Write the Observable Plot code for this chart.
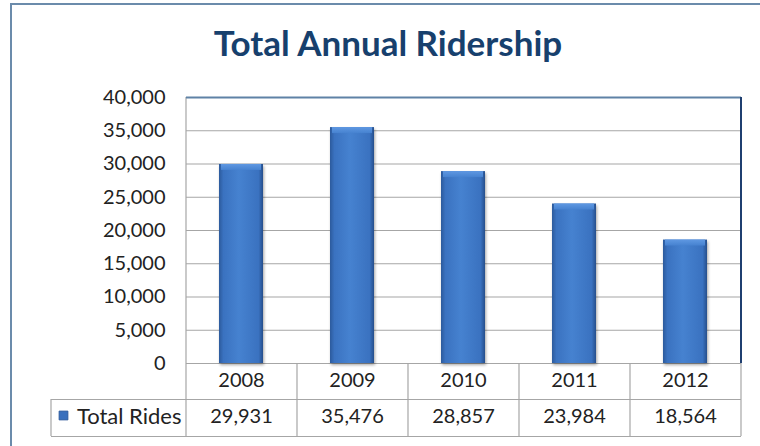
<!DOCTYPE html>
<html><head><meta charset="utf-8">
<script src="https://cdn.jsdelivr.net/npm/d3@7"></script>
<script src="https://cdn.jsdelivr.net/npm/@observablehq/plot@0.6"></script>
<style>
body{margin:0;background:#fff;}
#wrap{position:relative;width:760px;height:446px;overflow:hidden;font-family:Lato,"Open Sans",sans-serif;}
#frame{position:absolute;left:10px;top:3px;width:770px;height:470px;border-left:2px solid #6b8bab;border-top:2px solid #6b8bab;}
#title{position:absolute;left:10px;width:756px;top:24px;text-align:center;font-weight:bold;font-size:35px;color:#17406d;line-height:36px;}
#chart{position:absolute;left:0;top:0;}
</style></head>
<body>
<div id="wrap"><div id="frame"></div><div id="title">Total Annual Ridership</div><div id="chart"></div></div>
<script>
const years = ["2008", "2009", "2010", "2011", "2012"];
const rides = [29931, 35476, 28857, 23984, 18564];
const yTicks = [0, 5000, 10000, 15000, 20000, 25000, 30000, 35000, 40000];
const seriesName = "Total Rides";

const data = years.map((y, i) => ({year: y, rides: rides[i]}));
const fmt = d3.format(",");
const half = 55.5;
const gray = "#a6a6a6";

const chart = Plot.plot({
  width: 760,
  height: 446,
  marginTop: 97,
  marginBottom: 83,
  marginLeft: 186,
  marginRight: 19,
  style: {fontFamily: "Lato, 'Open Sans', sans-serif", fontSize: "20px", color: "#222", background: "transparent", overflow: "visible"},
  x: {domain: years, paddingInner: 0.6, paddingOuter: 0.3, axis: null},
  y: {domain: [0, 40000], ticks: yTicks, tickFormat: fmt, tickSize: 0, tickPadding: 21, label: null},
  marks: [
    Plot.ruleY(yTicks.slice(1, -1), {stroke: gray, strokeWidth: 1.2, strokeOpacity: 1}),
    Plot.ruleY([0], {stroke: gray, strokeWidth: 1.2}),
    Plot.ruleY([0], {stroke: gray, strokeWidth: 1.2, dy: 36, insetLeft: -135}),
    Plot.ruleY([0], {stroke: gray, strokeWidth: 1.2, dy: 73, insetLeft: -135}),
    Plot.ruleX(years, {x: d => d, dx: -half, y1: 0, y2: 0, insetBottom: -73, stroke: gray, strokeWidth: 1.2}),
    Plot.ruleX([years[0]], {x: d => d, dx: -half, y1: 0, y2: 40000, stroke: gray, strokeWidth: 1.2}),
    Plot.ruleX([years[4]], {x: d => d, dx: half, y1: 0, y2: 0, insetBottom: -73, stroke: gray, strokeWidth: 1.2}),
    Plot.ruleX([years[0]], {x: d => d, dx: -half - 135, y1: 0, y2: 0, insetTop: 36, insetBottom: -73, stroke: gray, strokeWidth: 1.2}),
    Plot.ruleY([40000], {stroke: "#5f82a6", strokeWidth: 2}),
    Plot.ruleX([years[4]], {x: d => d, dx: half, y1: 0, y2: 40000, stroke: "#1f3f70", strokeWidth: 2}),
    Plot.barY(data, {x: "year", y: "rides", fill: "#3f78c8", className: "mainbar"}),
    Plot.barY(data, {x: "year", y1: "rides", y2: "rides", insetBottom: -6, insetLeft: 2, insetRight: 2, fill: "#5b95e0", className: "bevel"}),
    Plot.text(years, {x: d => d, frameAnchor: "bottom", lineAnchor: "middle", dy: 17.5, fill: "#222"}),
    Plot.text(data, {x: "year", text: d => fmt(d.rides), frameAnchor: "bottom", lineAnchor: "middle", dy: 53.5, fill: "#222"}),
    Plot.text([seriesName], {frameAnchor: "bottom-left", lineAnchor: "middle", textAnchor: "end", dx: -5, dy: 53.5, fill: "#222", fontSize: 22}),
    Plot.dot([seriesName], {frameAnchor: "bottom-left", dx: -123, dy: 52, symbol: "square", r: 5, fill: "#3a70bd", stroke: "#2a5597", strokeWidth: 0.8})
  ]
});

const svg = d3.select(chart);
const defs = svg.insert("defs", ":first-child");
const g = defs.append("linearGradient").attr("id", "barGrad").attr("x1", "0").attr("x2", "1").attr("y1", "0").attr("y2", "0");
[["0%", "#2c5a9c"], ["10%", "#3a72c0"], ["45%", "#4682d0"], ["90%", "#3a72c0"], ["100%", "#264f8c"]].forEach(([o, c]) => g.append("stop").attr("offset", o).attr("stop-color", c));
const g2 = defs.append("linearGradient").attr("id", "bevGrad").attr("x1", "0").attr("x2", "0").attr("y1", "0").attr("y2", "1");
[["0%", "#5f98e2"], ["100%", "#4682d0"]].forEach(([o, c]) => g2.append("stop").attr("offset", o).attr("stop-color", c));
svg.selectAll(".mainbar rect").attr("fill", "url(#barGrad)").style("filter", "drop-shadow(1.5px 2px 1.5px rgba(0,0,0,0.35))");
svg.selectAll(".bevel rect").attr("fill", "url(#bevGrad)");
document.getElementById("chart").append(chart);
</script>
</body></html>
